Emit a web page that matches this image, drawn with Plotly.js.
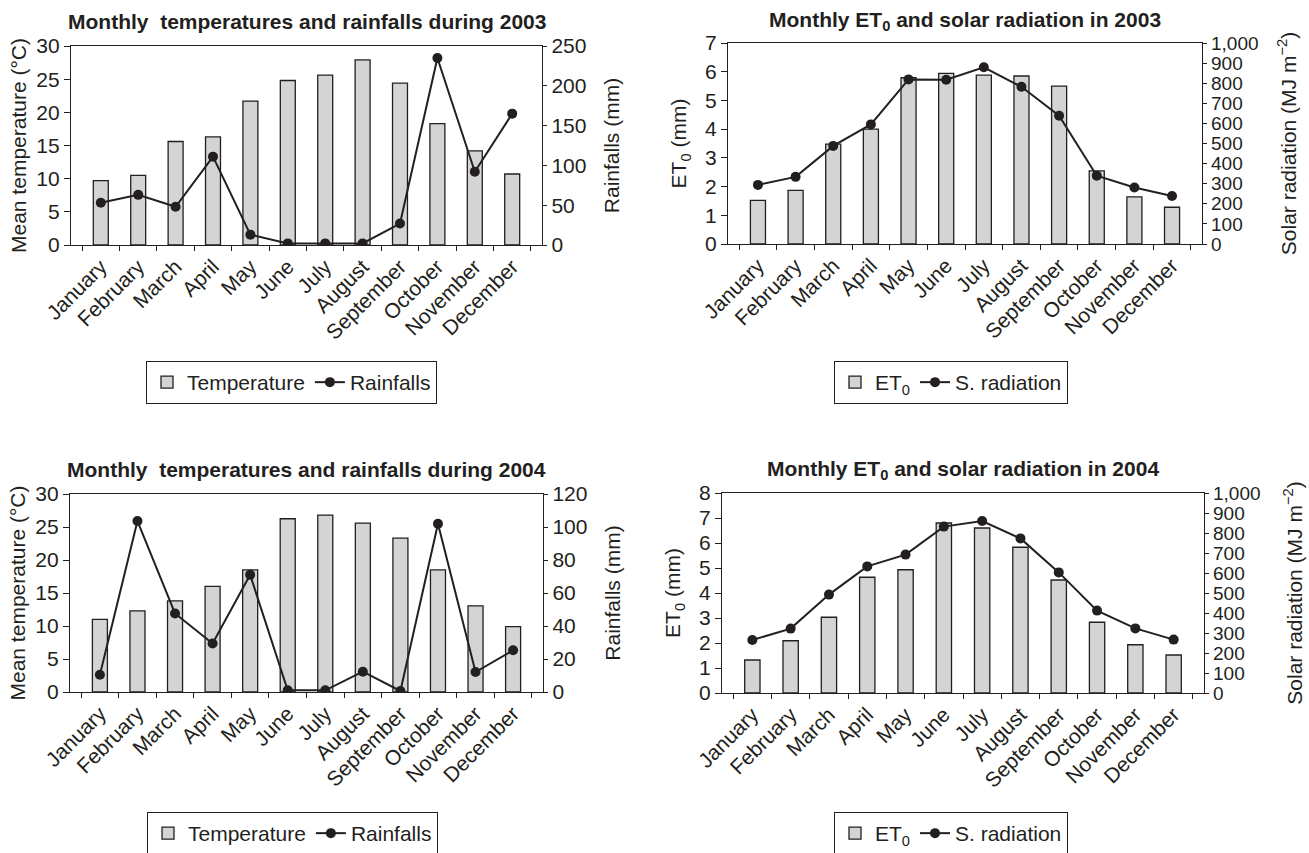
<!DOCTYPE html>
<html>
<head>
<meta charset="utf-8">
<script src="https://cdn.plot.ly/plotly-3.0.1.min.js"></script>
<style>
  html, body { margin: 0; padding: 0; background: #ffffff; }
  #chart { width: 1309px; height: 853px; }
</style>
</head>
<body>
<div id="chart"></div>
<script>
// ---- Data ----
const months = ["January", "February", "March", "April", "May", "June",
                "July", "August", "September", "October", "November", "December"];

const temp2003  = [9.7, 10.5, 15.6, 16.3, 21.7, 24.8, 25.6, 27.9, 24.4, 18.3, 14.2, 10.7];
const rain2003  = [53, 63, 48, 111, 13, 2, 2, 2, 27, 235, 92, 165];
const et0_2003  = [1.52, 1.87, 3.48, 4.0, 5.79, 5.94, 5.88, 5.85, 5.5, 2.55, 1.64, 1.28];
const solar2003 = [294, 334, 488, 595, 819, 817, 879, 782, 638, 340, 281, 239];

const temp2004  = [11.0, 12.3, 13.8, 16.0, 18.5, 26.25, 26.8, 25.6, 23.3, 18.5, 13.05, 9.9];
const rain2004  = [10.5, 103.6, 47.6, 29.4, 71, 1, 1, 12.3, 0.6, 102, 12.1, 25.3];
const et0_2004  = [1.32, 2.09, 3.03, 4.63, 4.93, 6.8, 6.6, 5.83, 4.52, 2.83, 1.93, 1.52];
const solar2004 = [265, 322, 492, 633, 692, 832, 860, 773, 603, 412, 323, 267];

const titles = [
  "Monthly  temperatures and rainfalls during 2003",
  "Monthly ET<sub>0</sub> and solar radiation in 2003",
  "Monthly  temperatures and rainfalls during 2004",
  "Monthly ET<sub>0</sub> and solar radiation in 2004"
];
const barNames  = ["Temperature", "ET<sub>0</sub>", "Temperature", "ET<sub>0</sub>"];
const lineNames = ["Rainfalls", "S. radiation", "Rainfalls", "S. radiation"];
const leftTitles  = ["Mean temperature (°C)", "ET<sub>0</sub> (mm)", "Mean temperature (°C)", "ET<sub>0</sub> (mm)"];
const rightTitles = ["Rainfalls (mm)", "Solar radiation (MJ m<sup>−2</sup>)", "Rainfalls (mm)", "Solar radiation (MJ m<sup>−2</sup>)"];

// ---- Styling / layout ----
const FONT = "Liberation Sans, Arial, Helvetica, sans-serif";
const INK = "#231f20";
const W = 1309, H = 853;
const px = v => v / W;
const py = v => 1 - v / H;

// plot-area pixel boxes [left, right, top, bottom]
const boxes = [
  [71, 542, 46, 245],
  [728, 1202, 43, 244],
  [70, 543, 494, 692],
  [722, 1204, 493, 693]
];
const titleY = [21, 21, 469, 470];
const legendPos = [[146, 361], [834, 361], [147, 812], [834, 812]];
const leftStandoff  = [3, 12, 3, 12];
const rightStandoff = [18, 23, 18, 27];
const rightTickSize = [21, 19, 21, 19];

const barSeries  = [temp2003, et0_2003, temp2004, et0_2004];
const lineSeries = [rain2003, solar2003, rain2004, solar2004];
const leftRanges  = [[0, 30, 5], [0, 7, 1], [0, 30, 5], [0, 8, 1]];
const rightRanges = [[0, 250, 50], [0, 1000, 100], [0, 120, 20], [0, 1000, 100]];

const traces = [];
const layout = {
  width: W, height: H,
  margin: {l: 0, r: 0, t: 0, b: 0, autoexpand: false},
  paper_bgcolor: "#ffffff",
  plot_bgcolor: "#ffffff",
  font: {family: FONT, size: 21, color: INK},
  showlegend: true,
  annotations: [],
  bargap: 0
};

for (let k = 0; k < 4; k++) {
  const xi = k + 1;
  const yl = 2 * k + 1, yr = 2 * k + 2;
  const xid = xi === 1 ? "x" : "x" + xi;
  const ylid = yl === 1 ? "y" : "y" + yl;
  const yrid = "y" + yr;
  const legId = k === 0 ? "legend" : "legend" + (k + 1);
  const [L, R, T, B] = boxes[k];

  traces.push({
    type: "bar", x: months, y: barSeries[k], name: barNames[k],
    xaxis: xid, yaxis: ylid, legend: legId,
    width: 0.4,
    marker: {color: "#d3d4d5", line: {color: INK, width: 1.3}},
    hoverinfo: "x+y"
  });
  traces.push({
    type: "scatter", mode: "lines+markers", x: months, y: lineSeries[k], name: lineNames[k],
    xaxis: xid, yaxis: yrid, legend: legId,
    line: {color: INK, width: 2},
    marker: {color: INK, size: 10, symbol: "circle"},
    hoverinfo: "x+y"
  });

  layout["xaxis" + (xi === 1 ? "" : xi)] = {
    domain: [px(L), px(R)],
    anchor: ylid,
    type: "category",
    tickangle: -45,
    tickson: "boundaries",
    ticks: "outside", ticklen: 5, tickwidth: 1, tickcolor: INK,
    showline: true, linecolor: INK, linewidth: 1.2, mirror: true,
    showgrid: false, zeroline: false,
    tickfont: {family: FONT, size: 21, color: INK},
    automargin: false,
    fixedrange: true
  };
  layout["yaxis" + (yl === 1 ? "" : yl)] = {
    domain: [py(B), py(T)],
    anchor: xid,
    range: [leftRanges[k][0], leftRanges[k][1]],
    dtick: leftRanges[k][2], tick0: 0,
    ticks: "outside", ticklen: 6, tickwidth: 1, tickcolor: INK,
    showline: true, linecolor: INK, linewidth: 1.2,
    showgrid: false, zeroline: false,
    tickfont: {family: FONT, size: 21, color: INK},
    title: {text: leftTitles[k], font: {family: FONT, size: 21, color: INK}, standoff: leftStandoff[k]},
    automargin: false,
    fixedrange: true
  };
  layout["yaxis" + yr] = {
    domain: [py(B), py(T)],
    anchor: xid,
    overlaying: ylid,
    side: "right",
    range: [rightRanges[k][0], rightRanges[k][1]],
    dtick: rightRanges[k][2], tick0: 0,
    tickformat: ",d",
    ticks: "outside", ticklen: 4, tickwidth: 1, tickcolor: INK,
    showline: true, linecolor: INK, linewidth: 1.2,
    showgrid: false, zeroline: false,
    tickfont: {family: FONT, size: rightTickSize[k], color: INK},
    title: {text: rightTitles[k], font: {family: FONT, size: 21, color: INK}, standoff: rightStandoff[k]},
    automargin: false,
    fixedrange: true
  };

  layout.annotations.push({
    xref: "paper", yref: "paper",
    x: px((L + R) / 2), y: py(titleY[k]),
    xanchor: "center", yanchor: "middle",
    text: "<b>" + titles[k] + "</b>",
    showarrow: false,
    font: {family: FONT, size: 21, color: INK}
  });

  layout[legId] = {
    orientation: "h",
    x: px(legendPos[k][0]), y: py(legendPos[k][1]),
    xanchor: "left", yanchor: "top",
    bgcolor: "#ffffff",
    bordercolor: INK, borderwidth: 1,
    font: {family: FONT, size: 21, color: INK},
    itemclick: false, itemdoubleclick: false,
    traceorder: "normal"
  };
}

Plotly.newPlot("chart", traces, layout, {displayModeBar: false, staticPlot: true});
</script>
</body>
</html>
